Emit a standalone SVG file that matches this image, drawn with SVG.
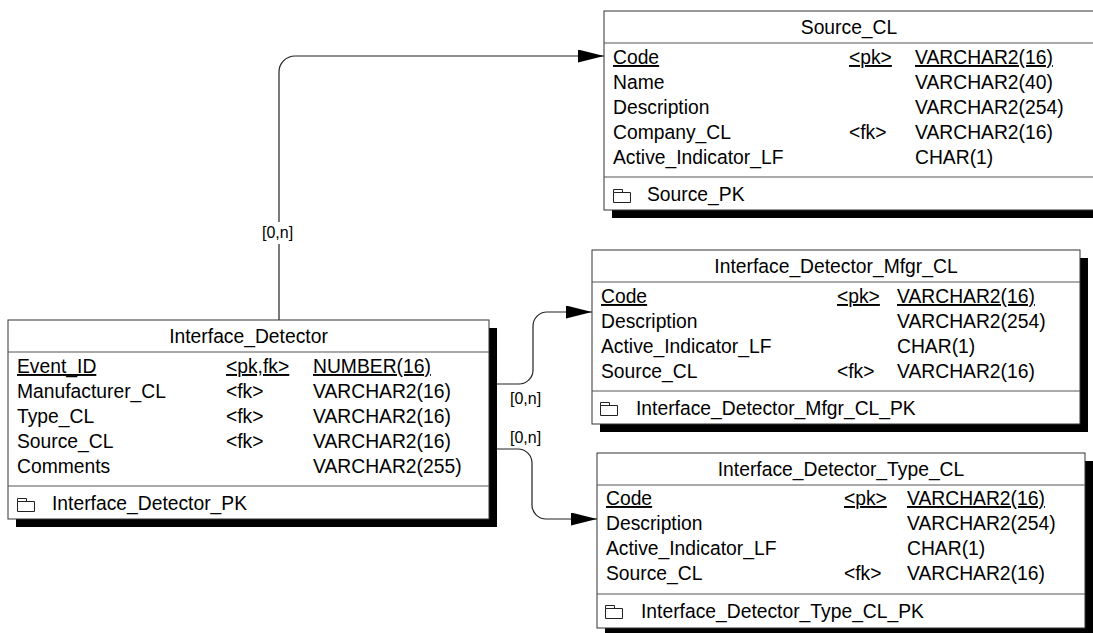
<svg xmlns="http://www.w3.org/2000/svg" width="1093" height="633" viewBox="0 0 1093 633">
<style>
.t{font-family:"Liberation Sans",Arial,sans-serif;font-size:19.3px;fill:#000}
.c{text-anchor:middle}
.u{text-decoration:underline}
.lbl{font-family:"Liberation Sans",Arial,sans-serif;font-size:16px;fill:#000}
.box{fill:#fff;stroke:#333;stroke-width:1}
.sh{fill:#000}
.sep{stroke:#555;stroke-width:1}
.ico{fill:none;stroke:#222;stroke-width:1}
.con{fill:none;stroke:#222;stroke-width:1.2}
</style>
<defs>
<marker id="arr" markerUnits="userSpaceOnUse" markerWidth="27" markerHeight="14" refX="26" refY="6.5" orient="auto">
<path d="M0,0 L26,6.5 L0,13 z" fill="#000"/>
</marker>
</defs>
<rect width="1093" height="633" fill="#fff"/>
<g id="connectors">
<path class="con" d="M279 320 V72 A16 16 0 0 1 295 56 H604" marker-end="url(#arr)"/>
<rect x="260" y="222" width="37" height="22" fill="#fff"/>
<text class="lbl" x="262" y="238">[0,n]</text>
<path class="con" d="M489 384 H519 A14 14 0 0 0 533 370 V326 A14 14 0 0 1 547 312 H592" marker-end="url(#arr)"/>
<text class="lbl" x="510" y="404">[0,n]</text>
<path class="con" d="M489 449 H518 A14 14 0 0 1 532 463 V505 A14 14 0 0 0 546 519 H597" marker-end="url(#arr)"/>
<text class="lbl" x="510" y="443">[0,n]</text>
</g>
<g id="Source_CL">
<rect class="sh" x="612" y="19" width="490" height="199"/>
<rect class="box" x="604" y="11" width="490" height="199"/>
<text class="t c" x="849" y="34">Source_CL</text>
<line class="sep" x1="604" y1="43" x2="1094" y2="43"/>
<text class="t u" x="613" y="64">Code</text><text class="t u" x="849" y="64">&lt;pk&gt;</text><text class="t u" x="915" y="64">VARCHAR2(16)</text>
<text class="t" x="613" y="89">Name</text><text class="t" x="915" y="89">VARCHAR2(40)</text>
<text class="t" x="613" y="114">Description</text><text class="t" x="915" y="114">VARCHAR2(254)</text>
<text class="t" x="613" y="139">Company_CL</text><text class="t" x="849" y="139">&lt;fk&gt;</text><text class="t" x="915" y="139">VARCHAR2(16)</text>
<text class="t" x="613" y="164">Active_Indicator_LF</text><text class="t" x="915" y="164">CHAR(1)</text>
<line class="sep" x1="604" y1="177" x2="1094" y2="177"/>
<path class="ico" d="M613.5 192.5 H630.5 V202.5 H613.5 Z M613.5 192.5 V189.5 H622.5 V192.5"/>
<text class="t" x="647" y="201">Source_PK</text>
</g>
<g id="Interface_Detector_Mfgr_CL">
<rect class="sh" x="600" y="258" width="488" height="174"/>
<rect class="box" x="592" y="250" width="488" height="174"/>
<text class="t c" x="836" y="273">Interface_Detector_Mfgr_CL</text>
<line class="sep" x1="592" y1="282" x2="1080" y2="282"/>
<text class="t u" x="601" y="303">Code</text><text class="t u" x="837" y="303">&lt;pk&gt;</text><text class="t u" x="897" y="303">VARCHAR2(16)</text>
<text class="t" x="601" y="328">Description</text><text class="t" x="897" y="328">VARCHAR2(254)</text>
<text class="t" x="601" y="353">Active_Indicator_LF</text><text class="t" x="897" y="353">CHAR(1)</text>
<text class="t" x="601" y="378">Source_CL</text><text class="t" x="837" y="378">&lt;fk&gt;</text><text class="t" x="897" y="378">VARCHAR2(16)</text>
<line class="sep" x1="592" y1="391" x2="1080" y2="391"/>
<path class="ico" d="M600.5 405.5 H617.5 V415.5 H600.5 Z M600.5 405.5 V402.5 H609.5 V405.5"/>
<text class="t" x="636" y="415">Interface_Detector_Mfgr_CL_PK</text>
</g>
<g id="Interface_Detector">
<rect class="sh" x="16" y="328" width="481" height="199"/>
<rect class="box" x="8" y="320" width="481" height="199"/>
<text class="t c" x="248.5" y="343">Interface_Detector</text>
<line class="sep" x1="8" y1="352" x2="489" y2="352"/>
<text class="t u" x="17" y="373">Event_ID</text><text class="t u" x="226" y="373">&lt;pk,fk&gt;</text><text class="t u" x="313" y="373">NUMBER(16)</text>
<text class="t" x="17" y="398">Manufacturer_CL</text><text class="t" x="226" y="398">&lt;fk&gt;</text><text class="t" x="313" y="398">VARCHAR2(16)</text>
<text class="t" x="17" y="423">Type_CL</text><text class="t" x="226" y="423">&lt;fk&gt;</text><text class="t" x="313" y="423">VARCHAR2(16)</text>
<text class="t" x="17" y="448">Source_CL</text><text class="t" x="226" y="448">&lt;fk&gt;</text><text class="t" x="313" y="448">VARCHAR2(16)</text>
<text class="t" x="17" y="473">Comments</text><text class="t" x="313" y="473">VARCHAR2(255)</text>
<line class="sep" x1="8" y1="486" x2="489" y2="486"/>
<path class="ico" d="M17.5 501.5 H34.5 V511.5 H17.5 Z M17.5 501.5 V498.5 H26.5 V501.5"/>
<text class="t" x="52" y="510">Interface_Detector_PK</text>
</g>
<g id="Interface_Detector_Type_CL">
<rect class="sh" x="605" y="461" width="488" height="175"/>
<rect class="box" x="597" y="453" width="488" height="175"/>
<text class="t c" x="841" y="476">Interface_Detector_Type_CL</text>
<line class="sep" x1="597" y1="485" x2="1085" y2="485"/>
<text class="t u" x="606" y="505">Code</text><text class="t u" x="844" y="505">&lt;pk&gt;</text><text class="t u" x="907" y="505">VARCHAR2(16)</text>
<text class="t" x="606" y="530">Description</text><text class="t" x="907" y="530">VARCHAR2(254)</text>
<text class="t" x="606" y="555">Active_Indicator_LF</text><text class="t" x="907" y="555">CHAR(1)</text>
<text class="t" x="606" y="580">Source_CL</text><text class="t" x="844" y="580">&lt;fk&gt;</text><text class="t" x="907" y="580">VARCHAR2(16)</text>
<line class="sep" x1="597" y1="594" x2="1085" y2="594"/>
<path class="ico" d="M605.5 608.5 H622.5 V618.5 H605.5 Z M605.5 608.5 V605.5 H614.5 V608.5"/>
<text class="t" x="641" y="618">Interface_Detector_Type_CL_PK</text>
</g>
</svg>
